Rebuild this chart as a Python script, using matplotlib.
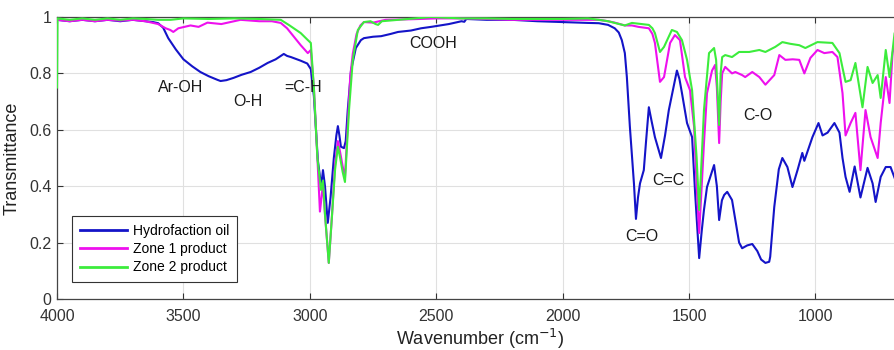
import matplotlib
matplotlib.use("Agg")
import matplotlib.pyplot as plt

plt.rcParams['font.family'] = ['Liberation Sans', 'DejaVu Sans']

# ---------------- data ----------------
hydro_wn = [4000, 3950, 3900, 3850, 3800, 3750, 3700, 3650, 3620, 3600,
            3580, 3560, 3530, 3500, 3465, 3433, 3400, 3365, 3353, 3330, 3302,
            3270, 3234, 3200, 3167, 3135, 3103, 3090, 3075, 3036, 3010,
            2996, 2984, 2968, 2955, 2948, 2940, 2929, 2918, 2905, 2895,
            2889, 2883, 2877, 2865, 2858, 2850, 2837, 2818, 2798, 2786,
            2750, 2718, 2680, 2651, 2600, 2560, 2520, 2450, 2400, 2389,
            2381, 2300, 2200, 2100, 2004, 1950, 1900, 1857, 1820, 1794,
            1778, 1766, 1754, 1746, 1734, 1718, 1710, 1702, 1694, 1679,
            1670, 1659, 1648, 1635, 1611, 1595, 1580, 1548, 1538, 1528,
            1508, 1488, 1476, 1460, 1450, 1441, 1429, 1401, 1390, 1381,
            1370, 1361, 1349, 1330, 1317, 1302, 1290, 1270, 1250, 1230,
            1215, 1198, 1183, 1179, 1163, 1145, 1131, 1111, 1091, 1070,
            1052, 1044, 1012, 988, 972, 952, 925, 905, 893, 881,
            865, 845, 822, 794, 774, 762, 742, 722, 703, 683,
            665]
hydro_T = [0.990, 0.985, 0.990, 0.985, 0.990, 0.985, 0.990, 0.985, 0.982, 0.978,
           0.962, 0.925, 0.885, 0.850, 0.825, 0.805, 0.790, 0.777, 0.773, 0.776, 0.784,
           0.795, 0.805, 0.820, 0.837, 0.850, 0.869, 0.862, 0.858, 0.845, 0.835,
           0.815, 0.720, 0.490, 0.400, 0.457, 0.400, 0.270, 0.360, 0.500, 0.580,
           0.613, 0.580, 0.540, 0.535, 0.560, 0.670, 0.810, 0.890, 0.918, 0.925,
           0.930, 0.932, 0.940, 0.947, 0.952, 0.960, 0.965, 0.975, 0.985, 0.983,
           0.993, 0.990, 0.990, 0.985, 0.982, 0.980, 0.979, 0.978, 0.972, 0.960,
           0.945, 0.918, 0.872, 0.787, 0.610, 0.410, 0.284, 0.360, 0.410, 0.457,
           0.560, 0.680, 0.630, 0.574, 0.500, 0.580, 0.670, 0.810, 0.780, 0.730,
           0.624, 0.574, 0.376, 0.145, 0.240, 0.316, 0.397, 0.475, 0.400, 0.280,
           0.350, 0.369, 0.380, 0.351, 0.280, 0.200, 0.180, 0.190, 0.195, 0.170,
           0.140, 0.128, 0.132, 0.150, 0.326, 0.460, 0.500, 0.468, 0.397, 0.460,
           0.518, 0.490, 0.574, 0.624, 0.580, 0.590, 0.624, 0.590, 0.500, 0.433,
           0.380, 0.470, 0.360, 0.465, 0.410, 0.344, 0.433, 0.468, 0.468, 0.420,
           0.460]

zone1_wn = [4000, 3950, 3900, 3850, 3800, 3750, 3700, 3650, 3600, 3570,
            3552, 3540, 3520, 3472, 3440, 3405, 3350, 3274, 3200, 3150,
            3115, 3090, 3063, 3036, 3008, 2996, 2984, 2970, 2960, 2955,
            2948, 2940, 2925, 2912, 2900, 2889, 2880, 2870, 2861, 2850,
            2840, 2830, 2815, 2800, 2786, 2750, 2700, 2600, 2500, 2400,
            2300, 2200, 2100, 2000, 1900, 1857, 1820, 1794, 1754, 1726,
            1700, 1659, 1645, 1635, 1615, 1599, 1575, 1556, 1536, 1516,
            1496, 1480, 1470, 1460, 1450, 1441, 1429, 1409, 1397, 1390,
            1381, 1375, 1369, 1357, 1330, 1317, 1290, 1278, 1250, 1222,
            1198, 1163, 1143, 1119, 1090, 1064, 1044, 1020, 992, 965,
            933, 913, 893, 881, 861, 842, 822, 802, 782, 754,
            742, 722, 707, 695, 683, 665]
zone1_T = [0.990, 0.985, 0.990, 0.985, 0.990, 0.987, 0.990, 0.985, 0.975, 0.960,
           0.954, 0.947, 0.960, 0.970, 0.965, 0.980, 0.975, 0.990, 0.985, 0.985,
           0.979, 0.960, 0.930, 0.900, 0.872, 0.883, 0.750, 0.500, 0.310, 0.350,
           0.410, 0.300, 0.128, 0.300, 0.480, 0.560, 0.520, 0.470, 0.430, 0.620,
           0.790, 0.870, 0.940, 0.970, 0.982, 0.980, 0.990, 0.992, 0.995, 0.995,
           0.993, 0.990, 0.990, 0.990, 0.990, 0.990, 0.985, 0.980, 0.970, 0.970,
           0.965, 0.960, 0.940, 0.908, 0.770, 0.787, 0.908, 0.936, 0.918, 0.787,
           0.740, 0.610, 0.400, 0.234, 0.400, 0.553, 0.730, 0.810, 0.830, 0.750,
           0.553, 0.700, 0.800, 0.823, 0.800, 0.805, 0.794, 0.787, 0.805, 0.787,
           0.760, 0.794, 0.865, 0.848, 0.850, 0.848, 0.800, 0.855, 0.883, 0.872,
           0.876, 0.858, 0.730, 0.580, 0.624, 0.660, 0.457, 0.670, 0.574, 0.500,
           0.624, 0.787, 0.695, 0.872, 0.930, 0.940]

zone2_wn = [4000, 3998, 3950, 3900, 3850, 3800, 3750, 3700, 3650, 3600,
            3550, 3500, 3400, 3300, 3200, 3115, 3080, 3036, 3010, 2996,
            2984, 2970, 2956, 2948, 2940, 2925, 2912, 2900, 2889, 2880,
            2870, 2861, 2845, 2830, 2810, 2786, 2760, 2740, 2730, 2715,
            2650, 2520, 2400, 2300, 2200, 2100, 2000, 1900, 1857, 1820,
            1794, 1754, 1726, 1659, 1645, 1635, 1615, 1599, 1568, 1548,
            1528, 1508, 1488, 1470, 1460, 1450, 1441, 1421, 1401, 1393,
            1381, 1375, 1369, 1357, 1330, 1302, 1262, 1222, 1198, 1159,
            1131, 1100, 1064, 1040, 992, 933, 905, 893, 881, 861,
            842, 814, 794, 774, 754, 742, 722, 707, 687, 665]
zone2_T = [0.750, 0.995, 0.990, 0.995, 0.990, 0.995, 0.990, 0.995, 0.993, 0.990,
           0.990, 0.995, 0.993, 0.995, 0.993, 0.990, 0.970, 0.943, 0.920, 0.908,
           0.750, 0.500, 0.387, 0.420, 0.300, 0.128, 0.300, 0.460, 0.540, 0.500,
           0.450, 0.415, 0.670, 0.848, 0.954, 0.982, 0.985, 0.975, 0.972, 0.985,
           0.990, 1.000, 0.995, 0.995, 0.993, 0.993, 0.993, 0.995, 0.990, 0.985,
           0.979, 0.970, 0.979, 0.972, 0.960, 0.943, 0.876, 0.894, 0.954, 0.947,
           0.918, 0.848, 0.740, 0.500, 0.316, 0.500, 0.670, 0.872, 0.890, 0.848,
           0.617, 0.800, 0.858, 0.865, 0.858, 0.876, 0.876, 0.883, 0.876, 0.894,
           0.911, 0.905, 0.900, 0.890, 0.911, 0.908, 0.872, 0.820, 0.770, 0.776,
           0.837, 0.680, 0.823, 0.766, 0.794, 0.713, 0.883, 0.787, 0.943, 0.947]

series_labels = ["Hydrofaction oil", "Zone 1 product", "Zone 2 product"]

band_labels = ["Ar-OH", "O-H", "=C-H", "COOH", "C=O", "C=C", "C-O"]
band_wn = [3510, 3246, 3028, 2512, 1687, 1580, 1226]
band_T = [0.75, 0.70, 0.75, 0.905, 0.22, 0.42, 0.65]

x_ticks = [4000, 3500, 3000, 2500, 2000, 1500, 1000]
y_ticks = [0, 0.2, 0.4, 0.6, 0.8, 1]
y_ticklabels = ["0", "0.2", "0.4", "0.6", "0.8", "1"]

# ---------------- figure ----------------
fig = plt.figure(figsize=(8.95, 3.5), dpi=100)
ax = fig.add_axes([57 / 895, 1 - 299 / 350, 1 - 57 / 895 + 0.01, (299 - 17) / 350])

colors = ["#1414c8", "#ee10ee", "#3cec3c"]
ax.plot(hydro_wn, hydro_T, color=colors[0], lw=1.5, label=series_labels[0], zorder=3)
ax.plot(zone1_wn, zone1_T, color=colors[1], lw=1.5, label=series_labels[1], zorder=4)
ax.plot(zone2_wn, zone2_T, color=colors[2], lw=1.5, label=series_labels[2], zorder=5)

for lab, xw, yt in zip(band_labels, band_wn, band_T):
    ax.text(xw, yt, lab, ha="center", va="center", fontsize=11.5, color="#1a1a1a", zorder=6)

ax.set_xlim(4000, 650)
ax.set_ylim(0, 1)
ax.set_xticks(x_ticks)
ax.set_yticks(y_ticks)
ax.set_yticklabels(y_ticklabels)
ax.tick_params(direction="in", length=4, width=0.8, labelsize=11.5, colors="#333333",
               top=True, right=True)
ax.tick_params(axis="x", pad=7)
ax.tick_params(axis="y", pad=4)
ax.grid(True, color="#e0e0e0", lw=0.8)
ax.set_axisbelow(True)
for s in ax.spines.values():
    s.set_color("#444444")
    s.set_linewidth(0.9)

ax.set_xlabel("Wavenumber (cm$^{-1}$)", fontsize=13, color="#222222", labelpad=2)
ax.set_ylabel("Transmittance", fontsize=13, color="#222222", labelpad=6)

leg = ax.legend(loc="lower left", bbox_to_anchor=(0.018, 0.06), borderaxespad=0,
                fontsize=10, fancybox=False, edgecolor="#333333", framealpha=1,
                handlelength=3.4, handletextpad=0.45, labelspacing=0.3,
                borderpad=0.55)
leg.get_frame().set_linewidth(0.8)
for line in leg.get_lines():
    line.set_linewidth(2)

fig.savefig("out.png", dpi=100)
